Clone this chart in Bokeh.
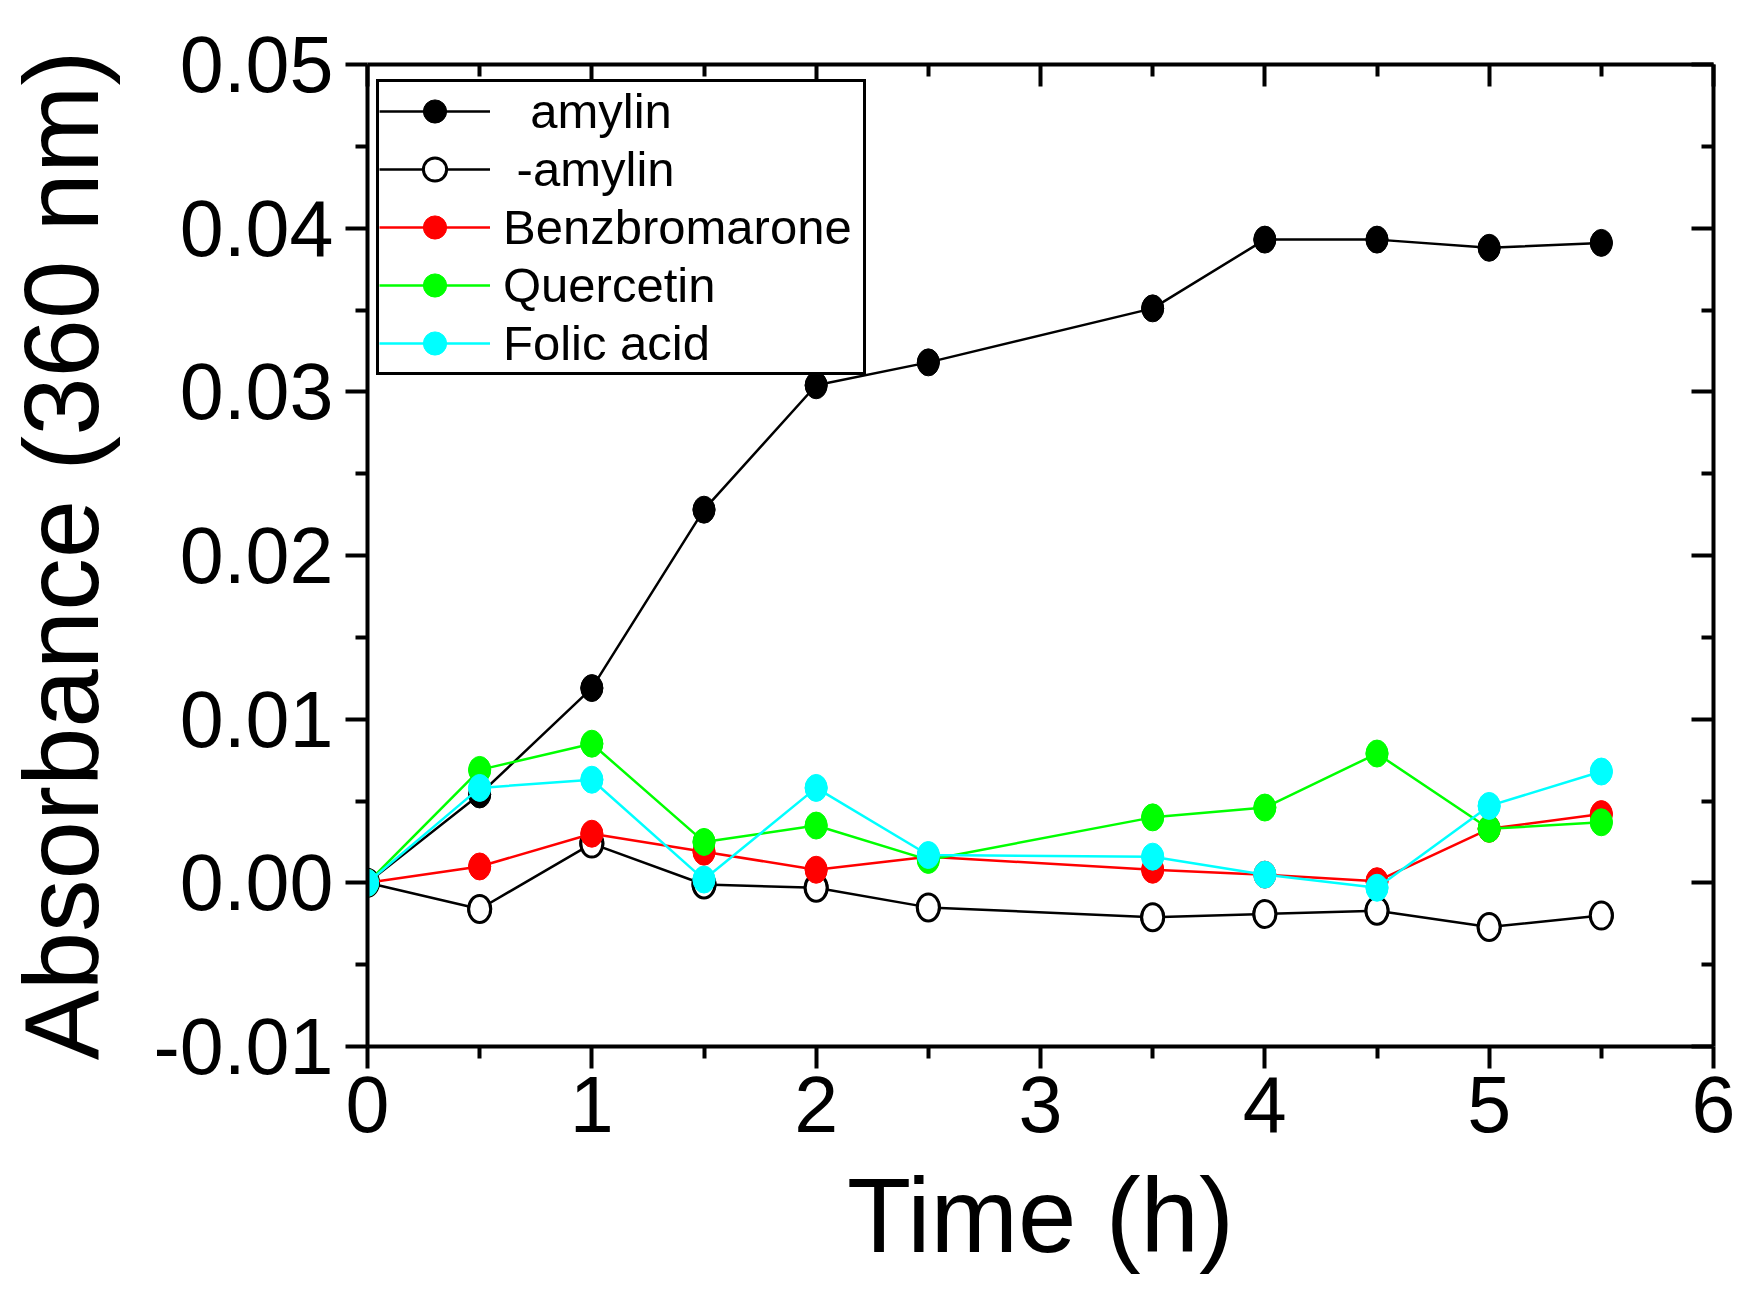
from bokeh.plotting import figure
from bokeh.models import (LinearAxis, FixedTicker, PrintfTickFormatter, Range1d,
                          Legend, LegendItem, CustomJSTickFormatter)
from bokeh.embed import file_html
from bokeh.resources import INLINE

# time points (h), no reading at 3 h
time_h = [0, 0.5, 1, 1.5, 2, 2.5, 3.5, 4, 4.5, 5, 5.5]

amylin = [0, 0.0054, 0.0119, 0.0228, 0.0304, 0.0318, 0.0351, 0.0393, 0.0393, 0.0388, 0.0391]
no_amylin = [0, -0.0016, 0.0024, -0.0001, -0.0003, -0.0015, -0.0021, -0.0019, -0.0017, -0.0027, -0.0020]
benzbromarone = [0, 0.0010, 0.0030, 0.0019, 0.0008, 0.0016, 0.0008, 0.0005, 0.0001, 0.0033, 0.0042]
quercetin = [0, 0.0069, 0.0085, 0.0025, 0.0035, 0.0014, 0.0040, 0.0046, 0.0079, 0.0033, 0.0037]
folic_acid = [0, 0.0058, 0.0063, 0.0002, 0.0058, 0.0017, 0.0016, 0.0005, -0.0003, 0.0047, 0.0068]

x_ticks = [0, 1, 2, 3, 4, 5, 6]
x_minor = [0.5, 1.5, 2.5, 3.5, 4.5, 5.5]
y_ticks = [-0.01, 0.0, 0.01, 0.02, 0.03, 0.04, 0.05]
y_minor = [-0.005, 0.005, 0.015, 0.025, 0.035, 0.045]

FONT = "Liberation Sans"

p = figure(frame_width=1346, frame_height=982,
           x_range=Range1d(0, 6), y_range=Range1d(-0.01, 0.05),
           min_border_left=355, min_border_right=27, min_border_top=64, min_border_bottom=200,
           output_backend="svg", toolbar_location=None)
p.outline_line_color = None
p.xgrid.visible = False
p.ygrid.visible = False
p.background_fill_color = "white"
p.border_fill_color = "white"


def style_axis(ax, inward):
    ax.axis_line_width = 4
    ax.axis_line_color = "black"
    ax.major_tick_line_width = 4
    ax.minor_tick_line_width = 4
    ax.major_tick_line_color = "black"
    ax.minor_tick_line_color = "black"
    if inward:
        ax.major_tick_in = 22
        ax.major_tick_out = 0
        ax.minor_tick_in = 12
        ax.minor_tick_out = 0
    else:
        ax.major_tick_in = 0
        ax.major_tick_out = 22
        ax.minor_tick_in = 0
        ax.minor_tick_out = 12
    ax.major_label_text_font = FONT
    ax.major_label_text_font_size = "79px"
    ax.major_label_text_color = "black"
    ax.axis_label_text_font = FONT
    ax.axis_label_text_font_size = "105px"
    ax.axis_label_text_font_style = "normal"
    ax.axis_label_text_color = "black"


p.xaxis.ticker = FixedTicker(ticks=x_ticks, minor_ticks=x_minor)
p.yaxis.ticker = FixedTicker(ticks=y_ticks, minor_ticks=y_minor)
p.yaxis.formatter = PrintfTickFormatter(format="%.2f")
p.xaxis.axis_label = "Time (h)"
p.yaxis.axis_label = "Absorbance (360 nm)"
style_axis(p.xaxis[0], False)
style_axis(p.yaxis[0], False)
p.xaxis.major_label_standoff = 8
p.yaxis.major_label_standoff = 12
p.xaxis.axis_label_standoff = 22
p.yaxis.axis_label_standoff = 30

# mirrored frame axes, ticks pointing inwards, no labels
blank = CustomJSTickFormatter(code="return ''")
top = LinearAxis(ticker=FixedTicker(ticks=x_ticks, minor_ticks=x_minor), formatter=blank)
right = LinearAxis(ticker=FixedTicker(ticks=y_ticks, minor_ticks=y_minor), formatter=blank)
style_axis(top, True)
style_axis(right, True)
top.major_label_text_font_size = "1px"
right.major_label_text_font_size = "1px"
p.add_layout(top, "above")
p.add_layout(right, "right")

series = [
    ("  amylin", amylin, "black", "black"),
    (" -amylin", no_amylin, "black", "white"),
    ("Benzbromarone", benzbromarone, "#ff0000", "#ff0000"),
    ("Quercetin", quercetin, "#00ff00", "#00ff00"),
    ("Folic acid", folic_acid, "#00ffff", "#00ffff"),
]

items = []
for name, vals, col, fill in series:
    lw = 3 if fill == "white" else 1
    ln = p.line(time_h, vals, line_color=col, line_width=2.5)
    # round marker (gives the legend swatch), covered by the taller ellipse
    sw = p.scatter(time_h, vals, marker="circle", size=22, fill_color=fill, line_color=col, line_width=lw)
    p.ellipse(time_h, vals, width=22, height=27, width_units="screen", height_units="screen",
              fill_color=fill, line_color=col, line_width=lw)
    items.append(LegendItem(label=name, renderers=[ln, sw]))

legend = Legend(items=items, location=(9, 982 - 18 - 293))
legend.glyph_width = 111
legend.glyph_height = 58
legend.label_height = 58
legend.label_width = 360
legend.label_standoff = 13
legend.spacing = 0
legend.padding = 0
legend.margin = 0
legend.label_text_font = FONT
legend.label_text_font_size = "49px"
legend.label_text_color = "black"
legend.border_line_color = "black"
legend.border_line_alpha = 1.0
legend.border_line_width = 3
legend.background_fill_color = "white"
legend.background_fill_alpha = 1.0
p.add_layout(legend, "center")

open("out.html", "w").write(file_html(p, INLINE))
